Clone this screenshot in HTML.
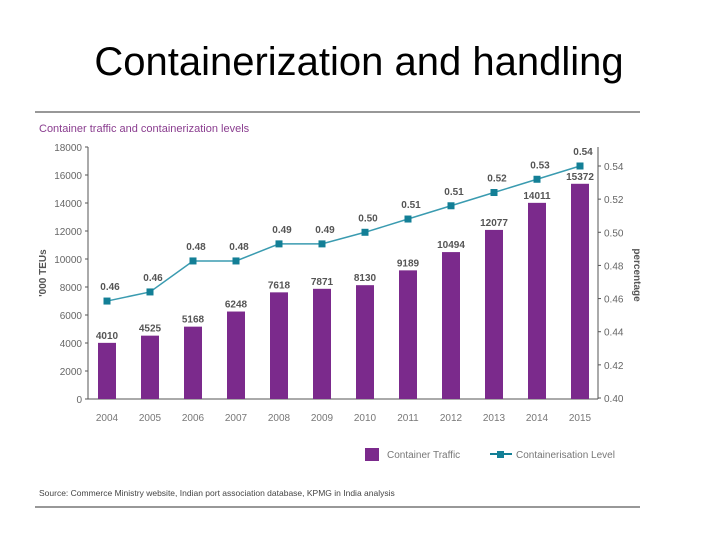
<!DOCTYPE html>
<html><head><meta charset="utf-8"><style>
body{margin:0;width:720px;height:540px;background:#fff;font-family:"Liberation Sans",sans-serif;overflow:hidden}
#title{position:absolute;left:0;width:718px;top:40px;text-align:center;font-size:40px;color:#000}
</style></head><body>
<div id="title">Containerization and handling</div>
<svg id="chart" width="720" height="540" style="position:absolute;left:0;top:0"></svg>
<script>
const years=["2004","2005","2006","2007","2008","2009","2010","2011","2012","2013","2014","2015"];
const traffic=[4010,4525,5168,6248,7618,7871,8130,9189,10494,12077,14011,15372];
const levels=[0.4585,0.464,0.4827,0.4827,0.493,0.493,0.500,0.508,0.516,0.524,0.532,0.540];
const levelLabels=["0.46","0.46","0.48","0.48","0.49","0.49","0.50","0.51","0.51","0.52","0.53","0.54"];
const leftTicks=[0,2000,4000,6000,8000,10000,12000,14000,16000,18000];
const rightTicks=["0.40","0.42","0.44","0.46","0.48","0.50","0.52","0.54"];
const svg=document.getElementById('chart');const NS="http://www.w3.org/2000/svg";
function mk(t,a,txt){const e=document.createElementNS(NS,t);for(const k in a)e.setAttribute(k,a[k]);if(txt!==undefined)e.textContent=txt;svg.appendChild(e);return e;}
const yL=v=>399-v*(252/18000);
const yR=v=>398-(v-0.40)*(232/0.14);
const xC=i=>107+i*43;
let e;
e=mk('line',{x1:35,y1:112,x2:640,y2:112,stroke:'#777','stroke-width':1.5});
e=mk('line',{x1:35,y1:507,x2:640,y2:507,stroke:'#777','stroke-width':1.5});
e=mk('text',{x:39,y:132,'font-size':11,fill:'#8a3d8f'},'Container traffic and containerization levels');
e=mk('line',{x1:88,y1:147,x2:88,y2:399,stroke:'#555'});
e=mk('line',{x1:88,y1:399,x2:598,y2:399,stroke:'#555'});
e=mk('line',{x1:598,y1:147,x2:598,y2:399,stroke:'#555'});
leftTicks.forEach(v=>{e=mk('text',{x:82,y:yL(v)+4,'font-size':10,fill:'#666','text-anchor':'end'},v);
mk('line',{x1:85,y1:yL(v),x2:88,y2:yL(v),stroke:'#555'});});
rightTicks.forEach(t=>{const v=parseFloat(t);e=mk('text',{x:604,y:yR(v)+4,'font-size':10,fill:'#666'},t);
mk('line',{x1:598,y1:yR(v),x2:601,y2:yR(v),stroke:'#555'});});
e=mk('text',{x:0,y:0,'font-size':10,'font-weight':'bold',fill:'#555','text-anchor':'middle',transform:'translate(46,273) rotate(-90)'},"'000 TEUs");
e=mk('text',{x:0,y:0,'font-size':10,'font-weight':'bold',fill:'#555','text-anchor':'middle',transform:'translate(634,275) rotate(90)'},"percentage");
years.forEach((y,i)=>{
 e=mk('rect',{x:xC(i)-9,y:yL(traffic[i]),width:18,height:399-yL(traffic[i]),fill:'#7b2a8c'});
 e=mk('text',{x:xC(i),y:yL(traffic[i])-4,'font-size':10,'font-weight':'bold',fill:'#555','text-anchor':'middle'},traffic[i]);
 e=mk('text',{x:xC(i),y:421,'font-size':10,fill:'#777','text-anchor':'middle'},y);
});
e=mk('polyline',{points:levels.map((v,i)=>xC(i)+','+yR(v)).join(' '),fill:'none',stroke:'#3a9bb0','stroke-width':1.5});
levels.forEach((v,i)=>{
 e=mk('rect',{x:xC(i)-3.5,y:yR(v)-3.5,width:7,height:7,fill:'#137f96'});
 e=mk('text',{x:xC(i)+3,y:yR(v)-11,'font-size':10,'font-weight':'bold',fill:'#555','text-anchor':'middle'},levelLabels[i]);
});
e=mk('rect',{x:365,y:448,width:14,height:13,fill:'#7b2a8c'});
e=mk('text',{x:387,y:458,'font-size':10,fill:'#777'},'Container Traffic');
e=mk('line',{x1:490,y1:454,x2:512,y2:454,stroke:'#137f96','stroke-width':2});
mk('rect',{x:497,y:451,width:7,height:7,fill:'#137f96'});
e=mk('text',{x:516,y:458,'font-size':10,fill:'#777'},'Containerisation Level');
e=mk('text',{x:39,y:496,'font-size':8.5,fill:'#444'},'Source: Commerce Ministry website, Indian port association database, KPMG in India analysis');
</script>
</body></html>
